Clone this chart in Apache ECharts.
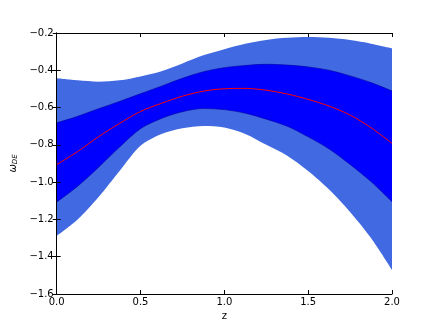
<!DOCTYPE html>
<html lang="en">
<head>
    <meta charset="UTF-8">
    <title>w_DE</title>
    <style>
        body{ margin:0; background:#fff; }
        #main{ width:436px; height:327px; }
    </style>
</head>
<body>
<div id="main"></div>
<script src="https://cdn.jsdelivr.net/npm/echarts@6/dist/echarts.min.js"></script>
<script>
    // z values and the band edges
    const zs = [0, 0.125, 0.25, 0.375, 0.5, 0.625, 0.75, 0.875, 1.0, 1.125, 1.25, 1.375, 1.5, 1.625, 1.75, 1.875, 2.0]
    const outerUpper = [-0.443, -0.454, -0.461, -0.454, -0.433, -0.405, -0.363, -0.320, -0.287, -0.258, -0.237, -0.226, -0.222, -0.226, -0.238, -0.257, -0.282]
    const innerUpper = [-0.682, -0.647, -0.606, -0.567, -0.526, -0.485, -0.443, -0.408, -0.386, -0.374, -0.368, -0.372, -0.382, -0.400, -0.430, -0.466, -0.511]
    const meanLine = [-0.906, -0.836, -0.756, -0.685, -0.621, -0.577, -0.539, -0.512, -0.499, -0.497, -0.507, -0.527, -0.556, -0.592, -0.640, -0.708, -0.792]
    const innerLower = [-1.107, -1.022, -0.920, -0.812, -0.713, -0.658, -0.622, -0.605, -0.611, -0.630, -0.662, -0.700, -0.757, -0.822, -0.905, -0.997, -1.105]
    const outerLower = [-1.288, -1.200, -1.080, -0.940, -0.805, -0.742, -0.711, -0.699, -0.707, -0.742, -0.800, -0.858, -0.940, -1.040, -1.160, -1.300, -1.471]

    const myChart = echarts.init(document.getElementById('main'))

    const pairs = arr => zs.map((z, i) => [z, arr[i]])
    const fmt = v => v.toFixed(1).replace('-', '\u2212')

    const font = 'DejaVu Sans'
    const tickStyle = {show: true, inside: true, length: 4, lineStyle: {color: '#000'}}
    const lineAxis = {show: true, lineStyle: {color: '#000', width: 1}}
    const smooth = 0.3

    // each edge is filled down to the bottom of the plot, painted from top edge to bottom edge
    const band = (arr, fill, edge) => ({
        type: 'line', smooth, symbol: 'none',
        data: pairs(arr),
        lineStyle: edge ? {width: 0.6, color: edge} : {width: 0, opacity: 0},
        areaStyle: {color: fill, opacity: 1, origin: 'start'}
    })

    const option = {
        animation: false,
        grid: {left: 54, right: 44, top: 33, bottom: 33},
        xAxis: [{
            type: 'value', min: 0, max: 2, interval: 0.5, z: 5,
            name: 'z', nameLocation: 'middle', nameGap: 17,
            nameTextStyle: {color: '#000', fontSize: 10, fontFamily: font},
            axisLine: lineAxis, axisTick: tickStyle, splitLine: {show: false},
            axisLabel: {color: '#000', fontSize: 10, fontFamily: font, margin: 3, formatter: fmt}
        }, {
            type: 'value', min: 0, max: 2, interval: 0.5, position: 'top', z: 5,
            axisLine: lineAxis, axisTick: tickStyle, splitLine: {show: false},
            axisLabel: {show: false}
        }],
        yAxis: [{
            type: 'value', min: -1.6, max: -0.2, interval: 0.2, z: 5,
            name: '{w|\u03c9}{s|DE}', nameLocation: 'middle', nameGap: 20, nameRotate: 90,
            nameTextStyle: {
                color: '#000', fontFamily: font,
                rich: {
                    w: {fontSize: 10, fontStyle: 'italic', fontFamily: font, color: '#000'},
                    s: {fontSize: 7, fontStyle: 'italic', fontFamily: font, color: '#000', padding: [4, 0, 0, 0]}
                }
            },
            axisLine: lineAxis, axisTick: tickStyle, splitLine: {show: false},
            axisLabel: {color: '#000', fontSize: 10, fontFamily: font, margin: 3, formatter: fmt}
        }, {
            type: 'value', min: -1.6, max: -0.2, interval: 0.2, position: 'right', z: 5,
            axisLine: lineAxis, axisTick: tickStyle, splitLine: {show: false},
            axisLabel: {show: false}
        }],
        series: [
            band(outerUpper, '#4169e1'),
            band(innerUpper, '#0000ff', '#0000a0'),
            band(innerLower, '#4169e1', '#0000a0'),
            band(outerLower, '#ffffff'),
            {
                type: 'line', smooth, symbol: 'none',
                data: pairs(meanLine),
                lineStyle: {width: 1, color: '#ff0000'}
            }
        ]
    }

    myChart.setOption(option)
</script>
</body>
</html>
